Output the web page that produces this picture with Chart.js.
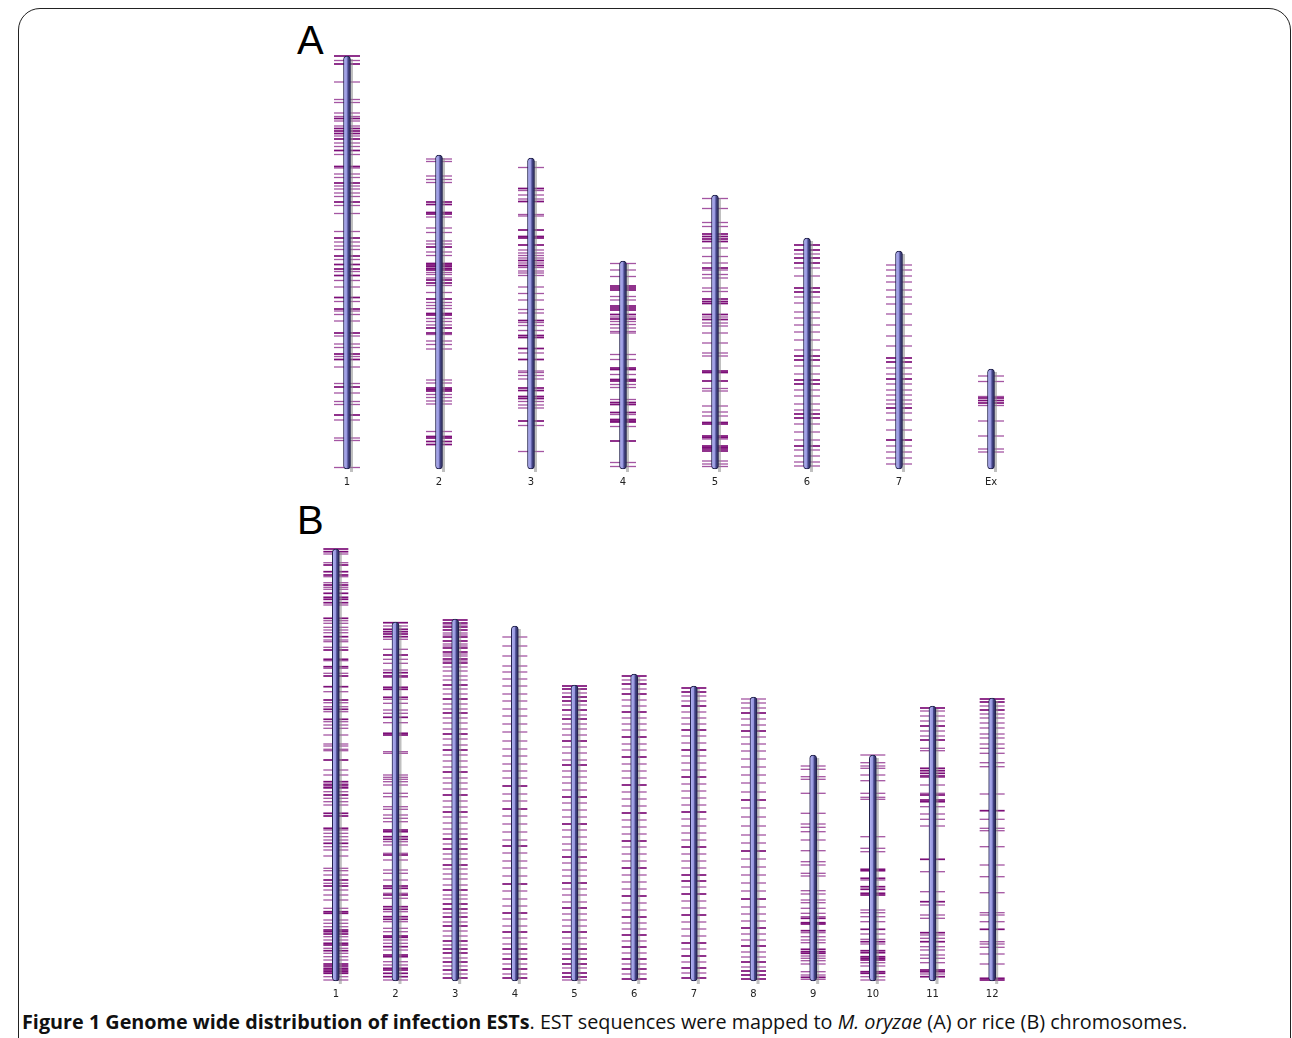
<!DOCTYPE html>
<html>
<head>
<meta charset="utf-8">
<script src="https://cdn.jsdelivr.net/npm/chart.js@4.4.0/dist/chart.umd.min.js"></script>
<style>
  body { margin: 0; background: #fff; width: 1292px; height: 1038px; overflow: hidden; position: relative; }
  .frame { position: absolute; left: 18px; top: 8px; width: 1273px; height: 1100px; border: 1.5px solid #222; border-radius: 22px 22px 0 0; box-sizing: border-box; }
  .panel-label { position: absolute; left: 297px; font-family: "Liberation Sans", Arial, sans-serif; font-size: 40px; line-height: 40px; color: #000; }
  .wrap { position: absolute; }
  .caption { position: absolute; left: 22px; top: 1008px; font-family: "Open Sans", sans-serif; font-size: 19.8px; color: #111; white-space: nowrap; }
</style>
</head>
<body>
<div class="frame"></div>
<div class="panel-label" style="top:20px">A</div>
<div class="panel-label" style="top:500px">B</div>
<div class="wrap" style="left:301px;top:46px"><canvas id="chartA" width="736" height="443"></canvas></div>
<div class="wrap" style="left:306px;top:539px"><canvas id="chartB" width="716" height="462"></canvas></div>
<div class="caption"><b>Figure 1 Genome wide distribution of infection ESTs</b>. EST sequences were mapped to <i>M. oryzae</i> (A) or rice (B) chromosomes.</div>

<script>
// ---------------- Panel A: M. oryzae chromosomes (Mb, position from top) ----------------
const labelsA = ["1", "2", "3", "4", "5", "6", "7", "Ex"];
const lengthsA = [8.26, 6.28, 6.22, 4.16, 5.48, 4.62, 4.36, 2.0];

const estDarkA = [
  [0, 0.16, 1.25, 1.45, 1.5, 1.55, 1.66, 1.89, 2.21, 2.54, 2.92, 3.64, 4.0, 4.17, 4.26, 4.39, 4.83, 5.06, 5.54, 5.96, 6.07, 6.62, 7.18],
  [0.94, 0.99, 1.15, 1.18, 1.84, 2.17, 2.2, 2.23, 2.27, 2.3, 2.5, 2.56, 2.88, 3.17, 3.2, 3.46, 3.56, 4.66, 4.69, 4.72, 5.63, 5.66, 5.73, 5.79],
  [0.61, 0.87, 1.44, 1.57, 1.6, 1.74, 2.05, 2.15, 3.25, 3.55, 3.59, 3.81, 4.03, 4.6, 4.65, 4.77, 4.81, 5.26],
  [0.5, 0.54, 0.58, 0.9, 0.94, 0.98, 1.07, 1.16, 2.14, 2.17, 2.37, 2.4, 2.83, 2.87, 3.03, 3.17, 3.2, 3.22, 3.6],
  [0.78, 0.83, 0.88, 0.93, 1.46, 2.08, 2.13, 2.17, 2.39, 2.49, 3.52, 3.55, 3.72, 4.55, 4.58, 4.82, 4.85, 5.02, 5.05, 5.08, 5.12],
  [0.14, 0.24, 0.4, 0.5, 1.0, 1.08, 2.36, 2.44, 2.84, 2.92, 3.52, 3.6, 4.16],
  [2.14, 2.22, 2.56, 3.14, 3.78],
  [0.58, 0.63, 0.68]
];
const estLightA = [
  [0.09, 0.52, 0.87, 0.93, 1.14, 1.21, 1.3, 1.4, 1.6, 1.74, 1.81, 1.97, 2.24, 2.36, 2.43, 2.6, 2.66, 2.74, 2.81, 2.99, 3.15, 3.51, 3.72, 3.8, 3.87, 4.07, 4.31, 4.49, 4.62, 4.91, 5.1, 5.17, 5.3, 5.6, 5.76, 5.83, 6.01, 6.22, 6.55, 6.74, 6.91, 6.97, 7.28, 7.64, 7.69, 8.23],
  [0.08, 0.13, 0.42, 0.49, 0.55, 1.24, 1.46, 1.55, 1.72, 1.78, 1.94, 2.01, 2.35, 2.39, 2.46, 2.61, 2.75, 2.95, 3.01, 3.07, 3.27, 3.33, 3.4, 3.59, 3.72, 3.79, 3.88, 4.5, 4.56, 4.79, 4.85, 4.92, 4.98, 5.53],
  [0.19, 0.65, 0.74, 0.82, 1.13, 1.16, 1.84, 1.9, 1.95, 2.0, 2.1, 2.19, 2.26, 2.3, 2.35, 2.58, 2.71, 2.84, 3.03, 3.1, 3.29, 3.35, 3.45, 3.9, 4.26, 4.29, 4.35, 4.42, 4.87, 4.94, 5.0, 5.35, 5.87],
  [0.05, 0.18, 0.31, 0.71, 0.78, 1.12, 1.21, 1.27, 1.34, 1.41, 1.44, 1.87, 1.97, 2.27, 2.47, 2.53, 2.77, 3.07, 3.31, 4.03, 4.11],
  [0.07, 0.27, 0.55, 0.63, 1.06, 1.23, 1.36, 1.5, 1.59, 1.66, 1.86, 1.93, 2.44, 2.56, 2.62, 2.76, 2.96, 3.16, 3.22, 3.87, 3.92, 4.22, 4.34, 4.42, 4.88, 5.32, 5.38, 5.43],
  [0.32, 0.6, 0.76, 1.18, 1.3, 1.48, 1.6, 1.74, 1.88, 2.04, 2.24, 2.56, 2.72, 3.04, 3.16, 3.32, 3.44, 3.72, 3.88, 4.04, 4.24, 4.36, 4.48, 4.56],
  [0.28, 0.38, 0.5, 0.62, 0.78, 0.92, 1.06, 1.26, 1.48, 1.7, 1.9, 2.34, 2.46, 2.66, 2.78, 2.88, 2.98, 3.06, 3.24, 3.38, 3.58, 3.9, 4.02, 4.14, 4.26],
  [0.14, 0.25, 0.55, 0.73, 1.04, 1.34, 1.6, 1.66]
];

// ---------------- Panel B: rice chromosomes (Mb, position from top) ----------------
const labelsB = ["1", "2", "3", "4", "5", "6", "7", "8", "9", "10", "11", "12"];
const lengthsB = [43.2, 35.9, 36.2, 35.5, 29.6, 30.7, 29.5, 28.4, 22.6, 22.6, 27.5, 28.3];

const estDarkB = [
  [0, 0.27, 1.6, 2.27, 2.6, 3.6, 4.43, 4.83, 5.03, 5.37, 6.93, 8.77, 10.1, 11.03, 11.77, 12.7, 13.77, 15.1, 16.03, 17.03, 21.1, 23.27, 23.6, 23.83, 24.6, 26.43, 26.7, 27.93, 29.43, 33.1, 33.7, 36.27, 36.43, 38.1, 38.27, 38.5, 39.43, 39.6, 40.17, 41.5, 41.7, 41.93, 42.1, 42.27, 42.43],
  [0.07, 0.73, 0.97, 1.2, 1.47, 3.3, 5.07, 5.4, 6.53, 6.73, 7.53, 9.53, 11.13, 11.3, 20.8, 20.97, 21.47, 21.73, 23.3, 26.4, 26.63, 27.3, 28.47, 28.73, 29.47, 29.73, 31.4, 31.53, 32.47, 33.3, 33.47, 34.63, 34.8, 35.13, 35.47],
  [0.1, 0.4, 0.8, 1.1, 1.8, 2.2, 2.9, 3.3, 4.0, 4.4, 6.6, 8.0, 9.4, 11.5, 13.1, 15.3, 17.6, 19.3, 22.0, 23.0, 24.6, 27.1, 28.5, 29.0, 29.8, 30.7, 32.2, 33.0, 33.4, 34.3, 35.1, 35.9],
  [16.0, 18.3, 22.0, 25.8, 28.7, 30.6, 32.3, 33.3, 34.3, 35.2],
  [0.1, 0.4, 1.2, 1.6, 2.5, 3.4, 5.6, 8.0, 11.2, 13.9, 17.2, 19.8, 22.3, 24.7, 26.4, 27.4, 27.9, 28.8, 29.2],
  [0.2, 1.0, 2.0, 3.8, 6.3, 8.3, 11.1, 13.9, 16.7, 19.4, 22.2, 24.3, 26.1, 27.3, 28.5, 29.5, 30.5],
  [0.2, 0.6, 2.0, 4.4, 6.4, 9.1, 12.6, 16.1, 18.9, 19.5, 20.8, 22.9, 25.7, 27.0, 28.2, 29.2],
  [1.6, 3.4, 10.3, 15.4, 20.2, 23.1, 24.9, 26.5, 27.4, 27.8, 28.2],
  [16.33, 16.77, 16.9, 17.57, 19.43, 19.67, 19.83, 22.23],
  [11.43, 11.57, 12.33, 13.17, 13.43, 13.83, 14.0, 17.43, 18.67, 19.57, 19.77, 20.17, 20.33, 20.5, 21.67, 21.83],
  [0.2, 2.0, 3.4, 6.23, 6.47, 6.73, 7.0, 8.9, 9.4, 9.57, 15.33, 19.57, 22.67, 23.57, 26.4, 26.57, 27.07],
  [0.1, 0.4, 1.2, 11.27, 23.13, 28.03, 28.2]
];
const estLightB = [
  [0.5, 1.37, 2.77, 3.37, 3.83, 4.03, 5.6, 7.17, 7.43, 7.83, 8.1, 8.37, 9.1, 9.27, 9.83, 11.17, 11.93, 12.43, 14.27, 15.37, 15.77, 16.27, 17.27, 17.6, 17.93, 18.6, 19.5, 19.7, 20.03, 20.17, 22.1, 22.6, 23.5, 23.93, 24.27, 24.93, 25.27, 25.6, 28.1, 28.43, 28.77, 29.1, 29.77, 30.1, 30.7, 31.93, 32.17, 32.6, 33.43, 34.1, 34.6, 35.1, 35.93, 37.1, 37.43, 37.77, 38.77, 39.1, 39.93, 40.43, 40.77, 41.1, 42.77, 43.1],
  [0.4, 1.73, 2.73, 3.73, 4.13, 4.8, 5.53, 7.73, 8.13, 8.8, 9.13, 10.07, 12.97, 13.13, 15.3, 15.53, 15.73, 15.97, 16.3, 17.13, 17.47, 18.47, 18.73, 19.3, 19.63, 19.97, 21.97, 22.3, 23.13, 23.8, 24.8, 25.13, 25.8, 27.13, 27.63, 28.97, 29.97, 30.63, 30.97, 31.8, 32.13, 32.8, 33.97, 34.3, 35.8],
  [0.6, 1.4, 1.6, 2.5, 2.7, 3.5, 3.7, 4.2, 4.8, 5.2, 5.7, 6.1, 7.0, 7.5, 8.5, 9.0, 9.9, 10.4, 11.0, 12.0, 12.6, 13.6, 14.2, 14.8, 15.9, 16.4, 17.0, 18.2, 18.8, 19.8, 20.4, 21.0, 21.5, 22.5, 23.5, 24.0, 25.0, 25.5, 26.0, 26.6, 27.6, 28.0, 29.4, 30.3, 31.2, 31.7, 32.6, 33.9, 34.7, 35.5],
  [1.1, 2.0, 3.0, 4.0, 4.6, 5.3, 6.0, 6.8, 7.5, 8.3, 9.0, 9.8, 10.6, 11.5, 12.3, 13.0, 13.8, 14.5, 15.2, 16.8, 17.5, 19.0, 19.8, 20.6, 21.4, 22.7, 23.5, 24.2, 25.0, 26.5, 27.3, 28.0, 29.3, 30.0, 31.2, 31.8, 32.8, 33.8, 34.8],
  [0.8, 2.0, 3.0, 3.9, 4.4, 5.0, 6.2, 6.8, 7.5, 8.6, 9.2, 9.8, 10.5, 11.8, 12.5, 13.2, 14.5, 15.2, 15.9, 16.5, 17.8, 18.5, 19.1, 20.4, 21.0, 21.7, 22.9, 23.5, 24.1, 25.3, 25.9, 26.9, 28.3, 29.5],
  [0.6, 1.5, 2.6, 3.2, 4.4, 5.0, 5.6, 7.0, 7.6, 9.0, 9.7, 10.4, 11.8, 12.5, 13.2, 14.6, 15.3, 16.0, 17.3, 18.0, 18.7, 20.1, 20.8, 21.5, 22.9, 23.6, 24.9, 25.5, 26.7, 27.9, 29.0, 30.0],
  [1.0, 1.5, 2.6, 3.2, 3.8, 5.0, 5.7, 7.0, 7.7, 8.4, 9.8, 10.5, 11.2, 11.9, 13.3, 14.0, 14.7, 15.4, 16.8, 17.5, 18.2, 20.1, 21.5, 22.2, 23.6, 24.3, 25.0, 26.3, 27.6, 28.7],
  [0.2, 0.6, 1.1, 2.2, 2.8, 4.0, 4.7, 5.4, 6.2, 7.0, 7.8, 8.6, 9.5, 11.1, 12.0, 12.9, 13.8, 14.6, 16.2, 17.0, 17.8, 18.6, 19.4, 21.0, 21.7, 22.4, 23.7, 24.3, 25.5, 26.0, 27.0],
  [1.1, 1.43, 2.17, 2.43, 3.83, 5.83, 6.9, 7.23, 7.67, 8.5, 9.57, 10.67, 11.0, 11.83, 12.1, 13.57, 13.9, 14.5, 14.77, 15.33, 15.83, 16.17, 17.77, 18.17, 18.5, 18.77, 20.1, 20.33, 20.57, 20.9, 21.67, 22.0, 22.43],
  [0, 0.77, 1.1, 1.33, 2.0, 2.57, 3.83, 4.23, 4.43, 8.17, 9.33, 9.67, 12.5, 15.5, 15.77, 16.17, 16.67, 17.9, 18.43, 18.9, 20.77, 21.1, 22.17, 22.5],
  [0.5, 1.0, 1.5, 2.5, 3.0, 4.23, 4.47, 7.13, 7.9, 8.73, 10.07, 10.8, 11.33, 12.0, 16.57, 18.57, 19.9, 20.9, 21.23, 22.9, 23.23, 24.07, 24.4, 24.9, 25.23, 25.67, 26.8],
  [0.8, 1.6, 2.0, 2.5, 3.0, 3.6, 4.0, 4.6, 5.03, 5.53, 6.47, 6.87, 9.6, 12.13, 13.03, 13.27, 14.87, 16.7, 17.87, 19.47, 21.47, 21.7, 22.37, 24.37, 24.6, 24.93, 25.6, 26.6]
];

// gray drop shadow to the right of each chromosome
const chromShadow = {
  id: "chromShadow",
  beforeDatasetDraw(chart, args) {
    if (args.index !== 0) return;
    const ctx = chart.ctx;
    ctx.save();
    ctx.fillStyle = "rgba(140,140,140,0.55)";
    args.meta.data.forEach((bar) => {
      ctx.fillRect(bar.x + bar.width / 2 - 0.5, bar.y + 3, 3, bar.base - bar.y);
    });
    ctx.restore();
  }
};

function makePanel(id, labels, lengths, dark, light, tickHalf) {
  // positions are read from the chromosome top; y axis runs up from the bottom end
  const toPoints = (lists) =>
    lists.flatMap((list, i) => list.map((p) => ({ x: labels[i], y: lengths[i] - p })));

  const tickSet = (points, color, width, order) => ({
    type: "line",
    data: points,
    showLine: false,
    pointStyle: "line",
    pointRadius: tickHalf,
    pointBorderWidth: width,
    borderColor: color,
    pointBorderColor: color,
    clip: false,
    order: order
  });

  return new Chart(document.getElementById(id), {
    type: "bar",
    data: {
      labels: labels,
      datasets: [
        {
          type: "bar",
          data: lengths.map((l) => [0, l]),
          backgroundColor: (c) => {
            const x = c.chart.scales.x.getPixelForValue(c.dataIndex);
            if (!isFinite(x)) return "#9a9ae0";
            const g = c.chart.ctx.createLinearGradient(x - 3.5, 0, x + 3.5, 0);
            g.addColorStop(0, "#b8b8f6");
            g.addColorStop(0.5, "#9494dc");
            g.addColorStop(0.62, "#4a4a8e");
            g.addColorStop(1, "#24244f");
            return g;
          },
          borderColor: "#22224c",
          borderWidth: 1,
          borderRadius: 4,
          borderSkipped: false,
          barThickness: 7,
          grouped: false,
          clip: false,
          order: 0
        },
        tickSet(toPoints(dark), "#7c0e78", 1.7, 1),
        tickSet(toPoints(light), "#a455a2", 1.3, 2)
      ]
    },
    options: {
      responsive: false,
      animation: false,
      events: [],
      layout: { autoPadding: false, padding: { top: 10, left: 0, right: 0, bottom: 0 } },
      plugins: { legend: { display: false }, tooltip: { enabled: false } },
      scales: {
        x: {
          grid: { display: false, drawTicks: false },
          border: { display: false },
          ticks: { color: "#222", padding: 7, font: { family: "DejaVu Sans", size: 10 } },
          afterFit(scale) { scale.height = 20; }
        },
        y: { display: false, min: 0, max: Math.max(...lengths) }
      }
    },
    plugins: [chromShadow]
  });
}

makePanel("chartA", labelsA, lengthsA, estDarkA, estLightA, 13);
makePanel("chartB", labelsB, lengthsB, estDarkB, estLightB, 12.5);
</script>
</body>
</html>
